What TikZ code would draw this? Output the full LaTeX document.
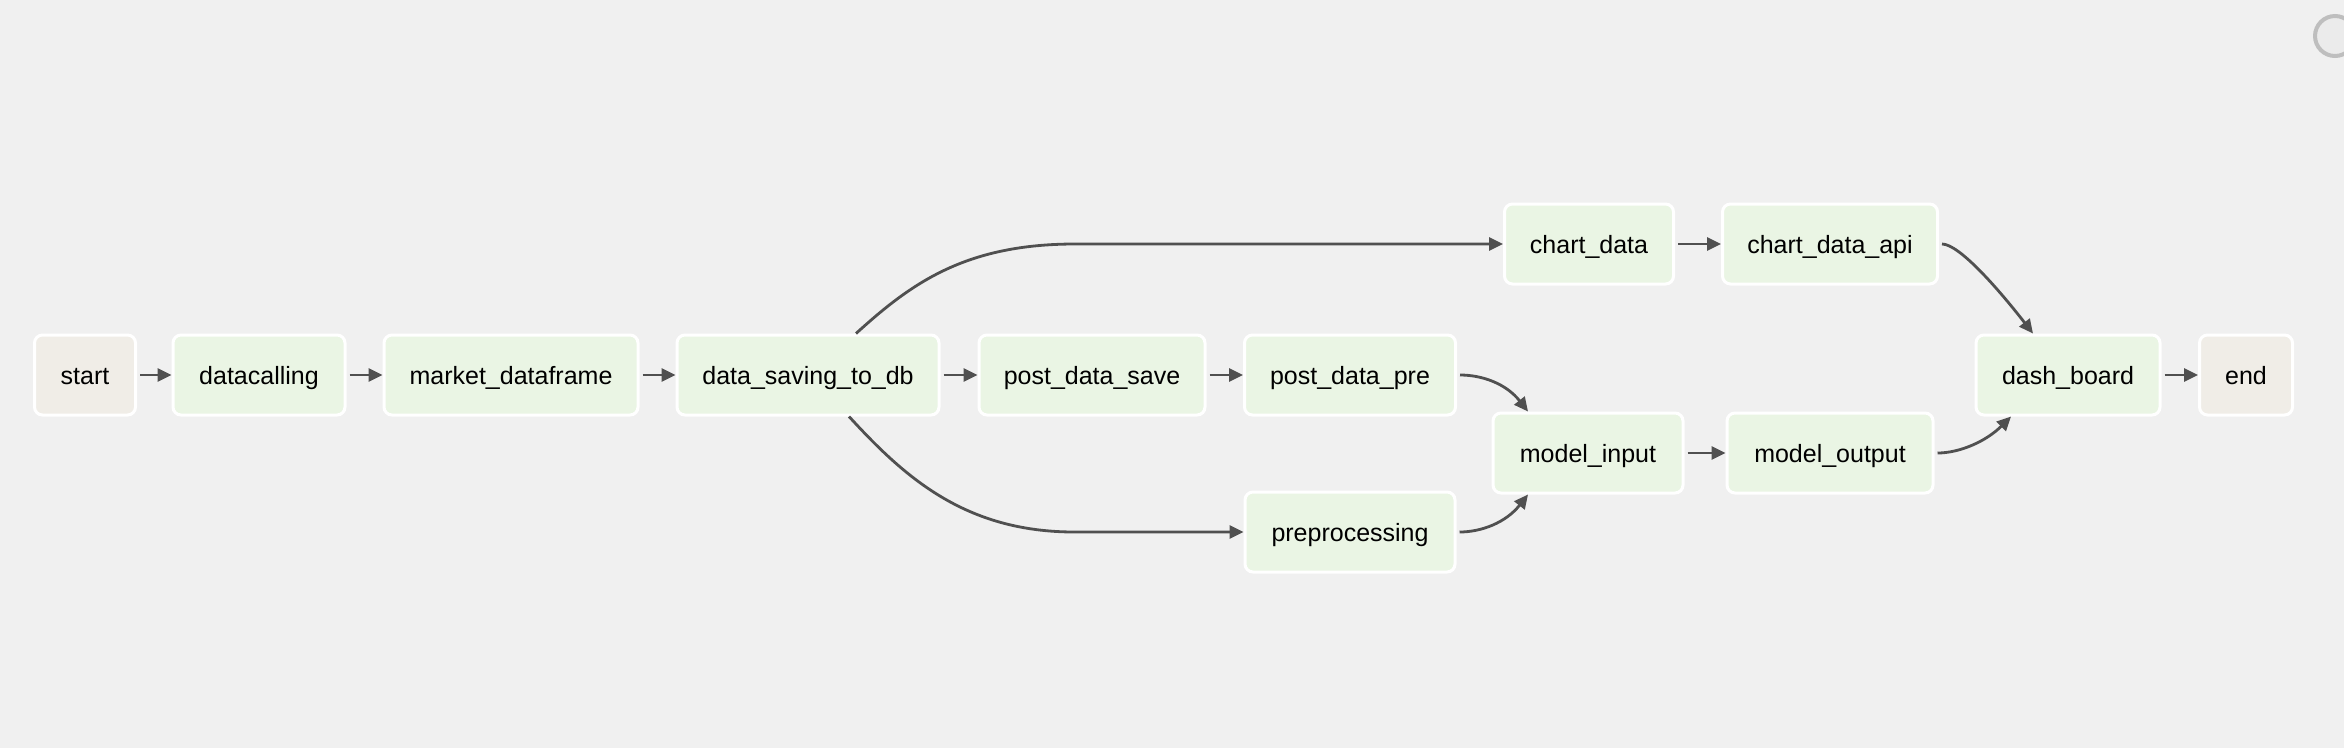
\documentclass[tikz,border=0pt]{standalone}
\usepackage{fontspec}
\setmainfont{Liberation Sans}
\usetikzlibrary{arrows.meta,calc}
\definecolor{bg}{RGB}{240,240,240}
\definecolor{taskfill}{RGB}{234,245,228}
\definecolor{termfill}{RGB}{240,237,231}
\definecolor{edgecol}{RGB}{80,80,80}
\definecolor{ringcol}{RGB}{190,190,190}
\tikzset{
  task/.style={draw=white, line width=3pt, rounded corners=8pt, fill=taskfill,
    minimum height=80pt, inner sep=0pt, text height=24pt, text depth=5pt,
    font=\fontsize{25}{30}\selectfont, text=black},
  term/.style={task, fill=termfill},
  edge/.style={draw=edgecol, line width=2.8pt, -{Triangle[length=14pt,width=13pt]}, shorten <=3pt},
}
\begin{document}
\begin{tikzpicture}[x=1pt,y=-1pt]
\useasboundingbox[fill=bg] (0,0) rectangle (2344,748);
\node[term, minimum width=101pt] (start) at (85,375) {start};
\node[task, minimum width=172pt] (datacalling) at (259,375) {datacalling};
\node[task, minimum width=254pt] (market) at (511,375) {market\_dataframe};
\node[task, minimum width=262pt] (dsdb) at (808,375) {data\_saving\_to\_db};
\node[task, minimum width=226pt] (pds) at (1092,375) {post\_data\_save};
\node[task, minimum width=211pt] (pdp) at (1350,375) {post\_data\_pre};
\node[task, minimum width=169pt] (chart) at (1589,244) {chart\_data};
\node[task, minimum width=215pt] (chartapi) at (1830,244) {chart\_data\_api};
\node[task, minimum width=190pt] (minput) at (1588,453) {model\_input};
\node[task, minimum width=206pt] (moutput) at (1830,453) {model\_output};
\node[task, minimum width=210pt] (prep) at (1350,532) {preprocessing};
\node[task, minimum width=184pt] (dash) at (2068,375) {dash\_board};
\node[term, minimum width=93pt] (end) at (2246,375) {end};
\draw[ringcol, line width=4pt, fill=black!8] (2335,36) circle (20pt);
\draw[edge] (start) -- (datacalling);
\draw[edge] (datacalling) -- (market);
\draw[edge] (market) -- (dsdb);
\draw[edge] (dsdb) -- (pds);
\draw[edge] (pds) -- (pdp);
\draw[edge] (chart) -- (chartapi);
\draw[edge] (minput) -- (moutput);
\draw[edge] (dash) -- (end);
\draw[edge, shorten <=0pt] ([xshift=48pt]dsdb.north) .. controls +(55,-50) and +(-110,0) .. ([xshift=-428pt]chart.west) -- (chart.west);
\draw[edge, shorten <=0pt] ([xshift=41pt]dsdb.south) .. controls +(55,60) and +(-110,0) .. ([xshift=-169pt]prep.west) -- (prep.west);
\draw[edge] (pdp.east) .. controls +(25,0) and +(-22,-28) .. ([xshift=-60pt]minput.north);
\draw[edge] (prep.east) .. controls +(25,0) and +(-22,28) .. ([xshift=-60pt]minput.south);
\draw[edge] (chartapi.east) .. controls +(20,0) and +(-35,-45) .. ([xshift=-35pt]dash.north);
\draw[edge] (moutput.east) .. controls +(25,0) and +(-25,25) .. ([xshift=-57pt]dash.south);
\end{tikzpicture}
\end{document}
